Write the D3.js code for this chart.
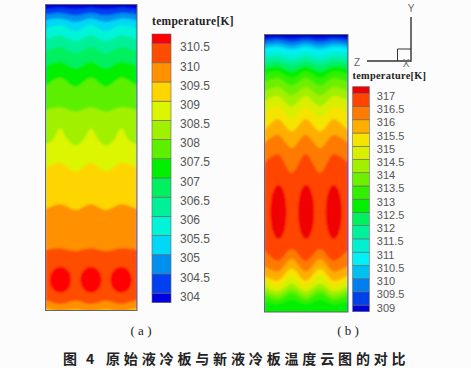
<!DOCTYPE html>
<html>
<head>
<meta charset="utf-8">
<script src="https://cdn.jsdelivr.net/npm/d3@7"></script>
<style>
  html, body { margin: 0; padding: 0; background: #fcfcfc; }
  svg { display: block; }
  .tick text { font-family: "Liberation Sans", sans-serif; fill: #555; }
</style>
</head>
<body>
<div id="chart"></div>
<script>
// legend labels, both plates [K]
const ticksA = [304, 304.5, 305, 305.5, 306, 306.5, 307, 307.5, 308, 308.5, 309, 309.5, 310, 310.5];
const ticksB = [309, 309.5, 310, 310.5, 311, 311.5, 312, 312.5, 313, 313.5, 314, 314.5, 315, 315.5, 316, 316.5, 317];

// band colours, coldest first
const colorsA = ["#0000e0", "#0040f0", "#0090f0", "#00d8f5", "#00f5d8", "#00f09a", "#00f060", "#00f000", "#5cf000", "#a0f000", "#dcf500", "#ffd500", "#ff9000", "#ff4d00", "#ff0000"];
const colorsB = ["#0000d8", "#0040e8", "#0080f0", "#00c0f0", "#00f0f8", "#00f0d0", "#00f09c", "#00f060", "#00f000", "#30f000", "#6cf000", "#a0f000", "#d8f000", "#f5e400", "#ffae00", "#ff7a00", "#ff4400", "#f00000"];

// positions across the plate
const acrossA = [0, 14.7, 30.3, 45.7, 60.7, 76.3, 92];
const acrossAFine = [0, 7, 14.7, 22, 30.3, 38, 45.7, 53, 60.7, 68.5, 76.3, 84, 92];
const acrossB = [0, 13.3, 27.3, 41.3, 55.7, 69.3, 83.7];

// isotherm depth from the top of plate a, one row per level from 304 up
const risingA = [
  [4.7, 3.4, 4.7, 3.4, 4.7, 3.4, 4.7],
  [9.7, 8.4, 10.7, 8.4, 10.7, 8.4, 9.7],
  [15.7, 14, 17.4, 14, 17.4, 14, 15.7],
  [24, 20.7, 26.4, 20.7, 26.4, 20.7, 24],
  [35, 30.7, 36.4, 30.7, 36.4, 30.7, 35],
  [47.4, 42.4, 49, 42.4, 49, 42.4, 47.4],
  [61.7, 57.4, 64, 57.4, 64, 57.4, 61.7],
  [81.7, 73.4, 82.4, 73.4, 82.4, 73.4, 81.7],
  [105.7, 103, 107.4, 103, 107.4, 103, 105.7],
  [140, 136, 124, 135, 141.4, 136, 124, 135, 141.4, 136, 124, 136, 140],
  [163.7, 158.4, 167.4, 158.4, 167.4, 158.4, 163.7],
  [205, 200, 205.7, 200, 205.7, 200, 205],
  [245.7, 244, 246.7, 244, 246.7, 244, 245.7]
];
// below the hot spots, temperature falling again: 310.5, 310
const fallingA = [
  [295.7, 300, 296.7, 300, 296.7, 300, 295.7],
  [304, 307.4, 305.4, 307.4, 305.4, 307.4, 304]
];

const risingB = [
  [4.3, 3, 4.3, 3, 4.3, 3, 4.3],
  [7, 5.6, 7.6, 5.6, 7.6, 5.6, 7],
  [10.3, 9, 11.3, 9, 11.3, 9, 10.3],
  [13.6, 12.3, 15.3, 12.3, 15.3, 12.3, 13.6],
  [18.6, 17, 20.3, 17, 20.3, 17, 18.6],
  [23.6, 22, 25.6, 22, 25.6, 22, 23.6],
  [28.6, 27, 31, 27, 31, 27, 28.6],
  [33.6, 32, 37, 32, 37, 32, 33.6],
  [39.6, 37, 43.6, 37, 43.6, 37, 39.6],
  [47.6, 43.6, 51.3, 43.6, 51.3, 43.6, 47.6],
  [57, 52.6, 61, 52.6, 61, 52.6, 57],
  [66.3, 61.6, 72, 61.6, 72, 61.6, 66.3],
  [77.6, 72, 83.6, 72, 83.6, 72, 77.6],
  [96.3, 84.6, 97, 84.6, 97, 84.6, 96.3],
  [108.6, 100.3, 113.6, 100.3, 113.6, 100.3, 108.6],
  [128.6, 119.6, 138.6, 119.6, 138.6, 119.6, 128.6]
];
// 316.5 down to 313
const fallingB = [
  [215.3, 226.3, 214.6, 226.3, 214.6, 226.3, 215.3],
  [231.3, 237, 224.6, 237, 224.6, 237, 231.3],
  [241, 246.3, 234.3, 246.3, 234.3, 246.3, 241],
  [245.3, 252.6, 242, 252.6, 242, 252.6, 245.3],
  [252, 257, 249.6, 257, 249.6, 257, 252],
  [256.3, 261, 254.3, 261, 254.3, 261, 256.3],
  [260.3, 265.3, 258.6, 265.3, 258.6, 265.3, 260.3],
  [267, 269.6, 265.3, 269.6, 265.3, 269.6, 267]
];

// hottest zones over each cell: centre across, centre depth, half width, half height
const hotA = [[15, 275.7, 10.7, 13], [45.7, 275.7, 10.7, 13], [76, 275.7, 10.7, 13]];
const hotB = [[14, 177.6, 8, 27], [41.7, 177.6, 8, 27], [69.4, 177.6, 8, 27]];

const svg = d3.select("#chart").append("svg")
  .attr("width", 471)
  .attr("height", 368);

const defs = svg.append("defs");
defs.append("filter").attr("id", "soft")
  .attr("x", "-5%").attr("y", "-5%").attr("width", "110%").attr("height", "110%")
  .append("feGaussianBlur").attr("stdDeviation", 0.8);

function drawPlate(id, box, size, colors, rising, falling, hot, across, fine) {
  const x = d3.scaleLinear().domain([0, size[0]]).range([box.left, box.right]);
  const y = d3.scaleLinear().domain([0, size[1]]).range([box.top, box.bottom]);

  defs.append("clipPath").attr("id", id)
    .append("rect")
    .attr("x", box.left)
    .attr("y", box.top)
    .attr("width", box.right - box.left)
    .attr("height", box.bottom - box.top);

  const g = svg.append("g").attr("clip-path", `url(#${id})`);
  const inner = g.append("g").attr("filter", "url(#soft)");

  inner.append("rect")
    .attr("x", box.left - 4).attr("y", box.top - 4)
    .attr("width", box.right - box.left + 8).attr("height", box.bottom - box.top + 8)
    .attr("fill", colors[0]);

  const area = d3.area()
    .x(d => x(d[0]))
    .y0(y(size[1]) + 6)
    .y1(d => y(d[1]))
    .curve(d3.curveCatmullRom.alpha(0.5));

  // each isotherm paints the next band from there down to the bottom edge
  const rows = rising.map((r, i) => ({ row: r, fill: colors[i + 1] }));
  const top = colors.length - 2;
  falling.forEach((r, i) => rows.push({ row: r, fill: colors[top - 1 - i] }));

  inner.selectAll(".band")
    .data(rows)
    .enter()
    .append("path")
    .attr("class", "band")
    .attr("fill", d => d.fill)
    .attr("d", d => {
      const xs = d.row.length === across.length ? across : fine;
      return area(d.row.map((v, i) => [xs[i], v]));
    });

  inner.selectAll(".hot")
    .data(hot)
    .enter()
    .append("ellipse")
    .attr("class", "hot")
    .attr("cx", d => x(d[0]))
    .attr("cy", d => y(d[1]))
    .attr("rx", d => x(d[2]) - x(0))
    .attr("ry", d => y(d[3]) - y(0))
    .attr("fill", colors[colors.length - 1]);

  svg.append("rect")
    .attr("x", box.left).attr("y", box.top)
    .attr("width", box.right - box.left).attr("height", box.bottom - box.top)
    .attr("fill", "none")
    .attr("stroke", "#666");
}

function drawLegend(box, ticks, colors, fontSize) {
  const y = d3.scaleLinear().domain(box.domain).range(box.range);
  const edges = [box.domain[0], ...ticks, box.domain[1]].map(y);

  svg.append("g").selectAll("rect")
    .data(colors)
    .enter()
    .append("rect")
    .attr("x", box.left)
    .attr("y", (d, i) => edges[i + 1])
    .attr("width", box.right - box.left)
    .attr("height", (d, i) => edges[i] - edges[i + 1])
    .attr("fill", d => d)
    .attr("stroke", "#666")
    .attr("stroke-width", 0.6);

  const axis = svg.append("g")
    .attr("transform", `translate(${box.right},${box.labelShift})`)
    .call(d3.axisRight(y).tickValues(ticks).tickSize(0).tickPadding(box.labelPad).tickFormat(d3.format("")));
  axis.select(".domain").remove();
  axis.selectAll("text").style("font-size", fontSize + "px");

  svg.append("text")
    .attr("x", box.titleX)
    .attr("y", box.titleY)
    .style("font-family", "'Liberation Serif', serif")
    .style("font-weight", "bold")
    .style("font-size", box.titleSize + "px")
    .style("letter-spacing", "0.3px")
    .style("fill", "#222")
    .text("temperature[K]");
}

drawPlate("plateA", { left: 45.5, right: 137, top: 4.5, bottom: 310.5 }, [92, 306.4],
  colorsA, risingA, fallingA, hotA, acrossA, acrossAFine);
drawPlate("plateB", { left: 264.5, right: 348, top: 34.5, bottom: 312 }, [83.7, 277.6],
  colorsB, risingB, fallingB, hotB, acrossB, acrossB);

drawLegend({ left: 152, right: 171, domain: [303.75, 310.75], range: [302.7, 34], labelShift: 3.4, labelPad: 9,
  titleX: 152, titleY: 25, titleSize: 11.5 }, ticksA, colorsA, 12);
drawLegend({ left: 352.7, right: 369.3, domain: [308.75, 317.25], range: [311.7, 86.7], labelShift: 2.5, labelPad: 7.5,
  titleX: 352.5, titleY: 79, titleSize: 10.3 }, ticksB, colorsB, 11);

// coordinate triad
const triad = svg.append("g").attr("fill", "none").attr("stroke", "#333");
triad.append("path").attr("stroke-width", 1.4).attr("d", "M411,17V61H367");
triad.append("path").attr("stroke-width", 1).attr("d", "M397.5,61V49H411");
[["Y", 411, 12], ["Z", 357, 66], ["X", 406, 67]].forEach(a => {
  svg.append("text")
    .attr("x", a[1]).attr("y", a[2])
    .attr("text-anchor", "middle")
    .style("font-family", "'Liberation Sans', sans-serif")
    .style("font-size", "10px")
    .style("fill", "#666")
    .text(a[0]);
});

// sub captions and figure caption
[["( a )", 141], ["( b )", 348]].forEach(c => {
  svg.append("text")
    .attr("x", c[1]).attr("y", 335)
    .attr("text-anchor", "middle")
    .style("font-family", "'Liberation Serif', serif")
    .style("font-size", "13px")
    .style("fill", "#222")
    .text(c[0]);
});
[["图", 63], ["4", 86], ["原始液冷板与新液冷板温度云图的对比", 106]].forEach(c => {
  svg.append("text")
    .attr("x", c[1]).attr("y", 363.5)
    .style("font-family", "'Noto Sans CJK SC', sans-serif")
    .style("font-weight", "bold")
    .style("font-size", "14px")
    .style("letter-spacing", "3.85px")
    .style("fill", "#222")
    .text(c[0]);
});
</script>
</body>
</html>
